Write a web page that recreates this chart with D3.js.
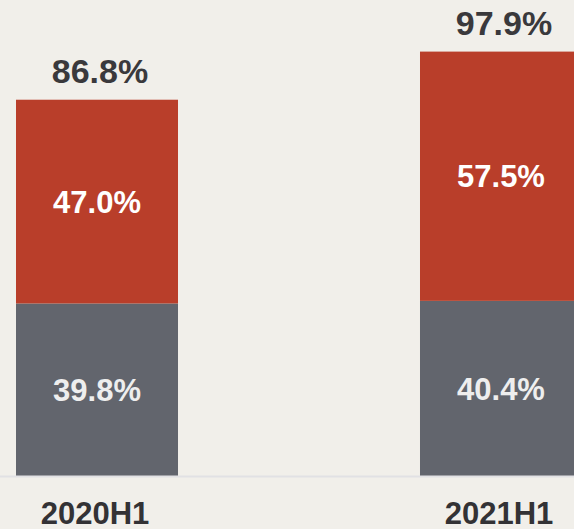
<!DOCTYPE html>
<html>
<head>
<meta charset="utf-8">
<script src="https://cdn.jsdelivr.net/npm/d3@7"></script>
<style>
  html, body { margin: 0; padding: 0; background: #f1efea; overflow: hidden; }
  svg { display: block; }
</style>
</head>
<body>
<svg id="chart" width="574" height="529"></svg>
<script>
const categories = ["2020H1", "2021H1"];
const bottomValues = [39.8, 40.4];   // gray series
const topValues = [47.0, 57.5];      // red series
const totalLabels = ["86.8%", "97.9%"];
const bottomLabels = ["39.8%", "40.4%"];
const topLabels = ["47.0%", "57.5%"];

const W = 574, H = 529;
const svg = d3.select("#chart");
const font = "'Liberation Sans', Arial, sans-serif";

svg.append("rect").attr("width", W).attr("height", H).attr("fill", "#f1efea");

const x = d3.scaleBand().domain(categories).range([16, 582]).paddingInner(0.599).paddingOuter(0);
const y = d3.scaleLinear().domain([0, 100]).range([476, 42.5]);

const rows = categories.map((c, i) => ({
  c, b: bottomValues[i], t: topValues[i],
  total: totalLabels[i], bl: bottomLabels[i], tl: topLabels[i]
}));

const g = svg.append("g");

// gray bottom segments
g.selectAll("rect.bot").data(rows).join("rect")
  .attr("class", "bot")
  .attr("x", d => x(d.c)).attr("width", x.bandwidth())
  .attr("y", d => y(d.b)).attr("height", d => y(0) - y(d.b))
  .attr("fill", "#62656d");

// red top segments
g.selectAll("rect.top").data(rows).join("rect")
  .attr("class", "top")
  .attr("x", d => x(d.c)).attr("width", x.bandwidth())
  .attr("y", d => y(d.b + d.t)).attr("height", d => y(d.b) - y(d.b + d.t))
  .attr("fill", "#b93e2a");

// axis
const axis = svg.append("g").attr("transform", `translate(0,${y(0)})`)
  .call(d3.axisBottom(x).tickSize(0).tickPadding(0));
axis.select(".domain").attr("d", `M0,0.5H${W}`).attr("stroke", "#e1e1e4").attr("stroke-width", 2);
axis.selectAll(".tick text")
  .attr("x", -2).attr("y", 48).attr("dy", 0)
  .attr("font-family", font).attr("font-weight", "bold")
  .attr("font-size", 31).attr("fill", "#333235");

// inner labels
g.selectAll("text.bl").data(rows).join("text")
  .attr("x", d => x(d.c) + x.bandwidth() / 2)
  .attr("y", d => (y(0) + y(d.b)) / 2)
  .attr("dy", "0.36em")
  .attr("text-anchor", "middle")
  .attr("font-family", font).attr("font-weight", "bold").attr("font-size", 31)
  .attr("fill", "#eeeeee")
  .text(d => d.bl);

g.selectAll("text.tl").data(rows).join("text")
  .attr("x", d => x(d.c) + x.bandwidth() / 2)
  .attr("y", d => (y(d.b) + y(d.b + d.t)) / 2)
  .attr("dy", "0.36em")
  .attr("text-anchor", "middle")
  .attr("font-family", font).attr("font-weight", "bold").attr("font-size", 31)
  .attr("fill", "#ffffff")
  .text(d => d.tl);

// totals
g.selectAll("text.tot").data(rows).join("text")
  .attr("x", d => x(d.c) + x.bandwidth() / 2 + 3)
  .attr("y", d => y(d.b + d.t) - 17)
  .attr("text-anchor", "middle")
  .attr("font-family", font).attr("font-weight", "bold").attr("font-size", 34)
  .attr("fill", "#3a393c")
  .text(d => d.total);
</script>
</body>
</html>
